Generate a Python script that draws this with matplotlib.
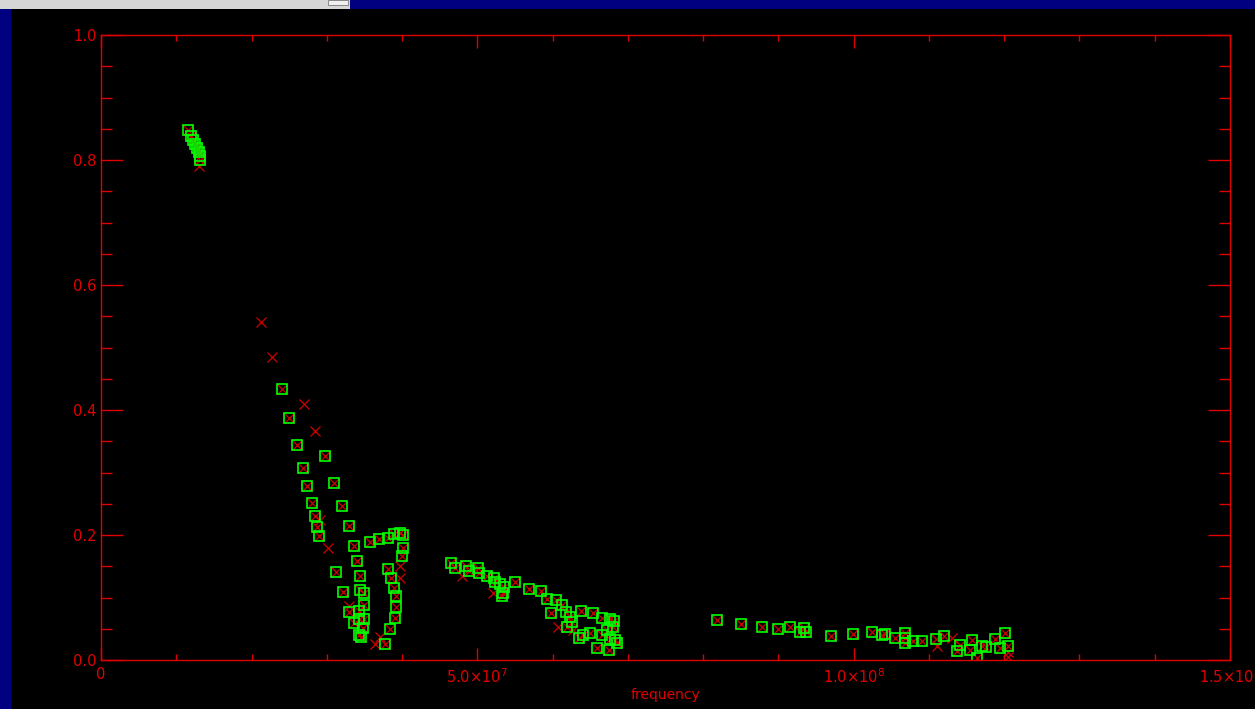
import numpy as np
import matplotlib
matplotlib.use('Agg')
import matplotlib.pyplot as plt
from matplotlib.patches import Rectangle
from matplotlib.ticker import FixedLocator, MultipleLocator

# green squares: frequency in MHz and value
sq_mhz = [11.56, 11.96, 12.22, 12.49, 12.75, 13.02, 13.15, 13.15,
          24.05, 25.02, 26.04, 29.80, 26.84, 31.00, 27.41, 28.03, 31.98, 28.43,
          28.66, 28.96, 32.99, 33.57, 33.97, 31.18, 34.37, 32.19, 34.37, 34.90,
          34.90, 32.99, 34.32, 34.90, 33.57, 34.32, 34.77, 34.32, 34.54,
          37.73, 38.40, 39.06, 39.19, 39.19, 38.93, 38.53, 38.17, 39.95, 40.16,
          40.16, 39.72, 38.93, 38.17, 36.97, 35.74,
          46.46, 47.03, 48.49, 48.89, 50.05, 50.18, 51.24, 52.25, 52.38, 53.01,
          53.54, 53.37, 53.23, 55.04, 56.82, 58.42, 59.29, 60.45, 59.79, 61.25,
          61.78, 62.31, 62.53, 61.95, 63.73, 65.33, 66.52, 67.62, 68.15, 67.98,
          63.55, 64.08, 64.97, 66.52, 67.18, 67.62, 68.29, 68.59, 65.94, 67.53,
          81.80, 84.99, 87.78, 89.94, 91.54, 92.87, 93.66, 93.40, 96.94, 99.86,
          102.43, 103.72, 104.16, 105.49, 106.81, 106.81, 106.81, 107.84, 109.03,
          110.93, 112.03, 114.12, 113.77, 115.76, 115.45, 116.34, 117.00, 117.57,
          118.77, 119.44, 120.10, 120.46]
sq_val = [0.848, 0.838, 0.832, 0.826, 0.819, 0.813, 0.806, 0.800,
          0.434, 0.388, 0.344, 0.326, 0.307, 0.284, 0.279, 0.251, 0.247, 0.231,
          0.213, 0.198, 0.214, 0.182, 0.158, 0.141, 0.134, 0.109, 0.112, 0.108,
          0.088, 0.077, 0.079, 0.065, 0.060, 0.066, 0.052, 0.040, 0.037,
          0.025, 0.049, 0.068, 0.085, 0.102, 0.116, 0.132, 0.146, 0.167, 0.179,
          0.200, 0.203, 0.202, 0.196, 0.193, 0.189,
          0.155, 0.148, 0.151, 0.143, 0.148, 0.139, 0.134, 0.132, 0.125, 0.121,
          0.117, 0.108, 0.103, 0.125, 0.114, 0.111, 0.097, 0.096, 0.075, 0.088,
          0.077, 0.069, 0.061, 0.053, 0.079, 0.075, 0.068, 0.065, 0.063, 0.053,
          0.036, 0.040, 0.043, 0.040, 0.048, 0.033, 0.032, 0.027, 0.019, 0.016,
          0.064, 0.058, 0.053, 0.049, 0.053, 0.045, 0.045, 0.051, 0.038, 0.042,
          0.045, 0.040, 0.041, 0.036, 0.043, 0.035, 0.027, 0.030, 0.030,
          0.034, 0.038, 0.024, 0.014, 0.032, 0.016, 0.003, 0.023, 0.021,
          0.034, 0.020, 0.044, 0.023]

# red crosses that have no square around them
x_only_mhz = [13.02, 21.26, 22.68, 27.01, 28.39, 29.10, 30.20, 32.99, 36.40,
              37.07, 39.72, 39.72, 47.92, 52.12, 60.76, 62.75, 111.02, 113.02,
              120.50, 120.50]
x_only_val = [0.790, 0.541, 0.485, 0.410, 0.367, 0.224, 0.180, 0.086, 0.025,
              0.037, 0.131, 0.150, 0.134, 0.107, 0.053, 0.048, 0.022, 0.035,
              0.013, 0.005]

x_ticks = [0, 5e7, 1e8, 1.5e8]
x_labels = ['0', r'5.0$\times$10$^{7}$', r'1.0$\times$10$^{8}$', r'1.5$\times$10$^{8}$']
y_ticks = [0.0, 0.2, 0.4, 0.6, 0.8, 1.0]

axis_red = '#e00000'
green = '#00ff00'

fig = plt.figure(figsize=(12.55, 7.09), dpi=100, facecolor='black')

# window frame around the plot
fig.patches.append(Rectangle((0, 1 - 9 / 709), 350 / 1255, 9 / 709, transform=fig.transFigure,
                             facecolor='#d6d6d6', edgecolor='none'))
fig.patches.append(Rectangle((350 / 1255, 1 - 9 / 709), 905 / 1255, 9 / 709, transform=fig.transFigure,
                             facecolor='#000080', edgecolor='none'))
fig.patches.append(Rectangle((0, 0), 11 / 1255, 1 - 9 / 709, transform=fig.transFigure,
                             facecolor='#000080', edgecolor='none'))
fig.patches.append(Rectangle((328 / 1255, 1 - 5 / 709), 20 / 1255, 5 / 709, transform=fig.transFigure,
                             facecolor='#f0f0f0', edgecolor='#888888', linewidth=0.7))

ax = fig.add_axes([101 / 1255, 49 / 709, 1129 / 1255, 625 / 709])
ax.set_facecolor('black')

fx = np.array(sq_mhz + x_only_mhz) * 1e6
vx = np.array(sq_val + x_only_val)
ax.plot(fx, vx, linestyle='none', marker='x', color='#d00000', markersize=7, markeredgewidth=0.9)
ax.plot(np.array(sq_mhz) * 1e6, sq_val, linestyle='none', marker='s', markersize=7.5,
        markerfacecolor='none', markeredgecolor=green, markeredgewidth=1.2)

ax.set_xlim(0, 1.5e8)
ax.set_ylim(0, 1.0)

ax.xaxis.set_major_locator(FixedLocator(x_ticks))
ax.set_xticklabels(x_labels)
ax.xaxis.set_minor_locator(MultipleLocator(1e7))
ax.yaxis.set_major_locator(FixedLocator(y_ticks))
ax.set_yticklabels(['%.1f' % t for t in y_ticks])
ax.yaxis.set_minor_locator(MultipleLocator(0.05))

for side in ax.spines.values():
    side.set_color(axis_red)
    side.set_linewidth(1.0)

ax.tick_params(axis='both', which='both', direction='in', color=axis_red, labelcolor=axis_red,
               top=True, right=True, width=1.0, labelsize=10.5)
ax.tick_params(axis='x', which='major', length=9, pad=5)
ax.tick_params(axis='x', which='minor', length=4.5)
ax.tick_params(axis='y', which='major', length=16, pad=3)
ax.tick_params(axis='y', which='minor', length=8)

ax.set_xlabel('frequency', color=axis_red, fontsize=10, labelpad=2)

fig.savefig('out.png', dpi=100, facecolor='black')
